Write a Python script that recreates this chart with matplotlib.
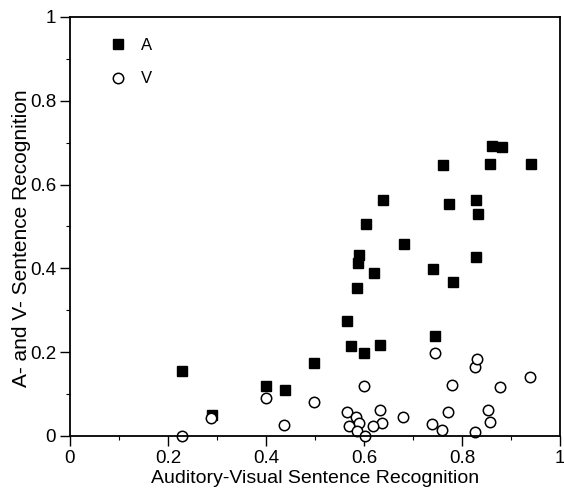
import numpy as np
import matplotlib.pyplot as plt
from matplotlib.ticker import MultipleLocator

plt.rcParams['font.family'] = ['Liberation Sans', 'DejaVu Sans']

# auditory-visual score (x) with auditory-only (A) and visual-only (V) scores
av_a = [0.229, 0.289, 0.401, 0.438, 0.497, 0.565, 0.573, 0.600, 0.633, 0.585,
        0.588, 0.590, 0.621, 0.605, 0.638, 0.682, 0.741, 0.744, 0.762, 0.773,
        0.781, 0.828, 0.833, 0.828, 0.857, 0.861, 0.881, 0.941]
a_score = [0.156, 0.050, 0.119, 0.110, 0.174, 0.274, 0.215, 0.197, 0.218, 0.354,
           0.412, 0.431, 0.390, 0.506, 0.562, 0.458, 0.398, 0.238, 0.646, 0.554,
           0.368, 0.562, 0.529, 0.426, 0.650, 0.693, 0.690, 0.650]

av_v = [0.229, 0.288, 0.401, 0.437, 0.497, 0.565, 0.584, 0.589, 0.570, 0.585,
        0.602, 0.632, 0.636, 0.619, 0.600, 0.680, 0.744, 0.738, 0.759, 0.771,
        0.780, 0.827, 0.827, 0.831, 0.854, 0.858, 0.878, 0.939]
v_score = [0.000, 0.042, 0.091, 0.027, 0.082, 0.057, 0.046, 0.031, 0.025, 0.012,
           0.000, 0.061, 0.030, 0.024, 0.119, 0.045, 0.197, 0.029, 0.014, 0.057,
           0.121, 0.009, 0.165, 0.184, 0.061, 0.033, 0.116, 0.141]

ticks = [0, 0.2, 0.4, 0.6, 0.8, 1]
tick_labels = ['0', '0.2', '0.4', '0.6', '0.8', '1']

fig = plt.figure(figsize=(5.64, 4.96), dpi=100)
ax = fig.add_axes([0.124, 0.121, 0.869, 0.845])

ax.plot(av_a, a_score, 's', color='black', markersize=7.5, label='A', clip_on=False)
ax.plot(av_v, v_score, 'o', mfc='white', mec='black', mew=1.1, markersize=7.5,
        label='V', clip_on=False)

ax.set_xlim(0, 1)
ax.set_ylim(0, 1)
ax.set_xticks(ticks)
ax.set_yticks(ticks)
ax.set_xticklabels(tick_labels)
ax.set_yticklabels(tick_labels)
ax.xaxis.set_minor_locator(MultipleLocator(0.1))
ax.yaxis.set_minor_locator(MultipleLocator(0.1))
ax.tick_params(which='major', direction='out', length=7, width=1, labelsize=13.5, pad=3)
ax.tick_params(which='minor', direction='out', length=3, width=0.8)
for s in ax.spines.values():
    s.set_linewidth(1.3)

ax.set_xlabel('Auditory-Visual Sentence Recognition', fontsize=14, labelpad=2)
ax.set_ylabel('A- and V- Sentence Recognition', fontsize=15)
ax.yaxis.set_label_coords(-0.08, 0.473)

ax.legend(loc='upper left', bbox_to_anchor=(0.05, 0.985), frameon=False,
          fontsize=12, labelspacing=1.1, handletextpad=0.9, handlelength=1.0)

fig.savefig('out.png', dpi=100)
